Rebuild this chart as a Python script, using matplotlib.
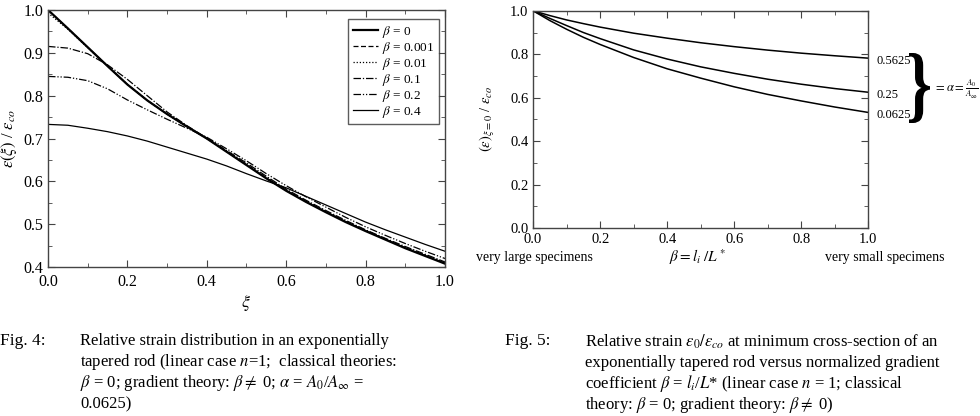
import matplotlib
matplotlib.use("Agg")
import matplotlib.pyplot as plt
from matplotlib.ticker import MultipleLocator
from matplotlib.textpath import TextPath
from matplotlib.patches import PathPatch
from matplotlib.font_manager import FontProperties
from matplotlib.transforms import Affine2D
import numpy as np

plt.rcParams['font.family'] = ['Liberation Serif', 'DejaVu Serif']
plt.rcParams['mathtext.fontset'] = 'stix'

# Fig. 4 - strain distribution along xi (alpha = 0.0625)
xi = [0.0, 0.05, 0.1, 0.15, 0.2, 0.25, 0.3, 0.35, 0.4, 0.45, 0.5,
      0.55, 0.6, 0.65, 0.7, 0.75, 0.8, 0.85, 0.9, 0.95, 1.0]
eps_b0 = [1.0, 0.957, 0.913, 0.869, 0.826, 0.789, 0.757, 0.728, 0.700, 0.669, 0.638,
          0.607, 0.578, 0.552, 0.528, 0.505, 0.484, 0.464, 0.444, 0.426, 0.408]
eps_b0001 = [1.0, 0.957, 0.913, 0.869, 0.826, 0.789, 0.757, 0.728, 0.700, 0.670, 0.639,
             0.608, 0.579, 0.553, 0.529, 0.506, 0.485, 0.465, 0.445, 0.427, 0.409]
eps_b001 = [0.993, 0.955, 0.912, 0.869, 0.826, 0.789, 0.757, 0.728, 0.700, 0.670, 0.640,
            0.609, 0.580, 0.554, 0.530, 0.507, 0.486, 0.466, 0.446, 0.428, 0.410]
eps_b01 = [0.915, 0.911, 0.898, 0.872, 0.838, 0.800, 0.762, 0.730, 0.701, 0.672, 0.643,
           0.612, 0.582, 0.556, 0.532, 0.509, 0.487, 0.467, 0.448, 0.430, 0.412]
eps_b02 = [0.845, 0.843, 0.835, 0.816, 0.790, 0.767, 0.745, 0.724, 0.703, 0.676, 0.648,
           0.618, 0.590, 0.564, 0.540, 0.516, 0.494, 0.474, 0.455, 0.437, 0.420]
eps_b04 = [0.733, 0.731, 0.724, 0.716, 0.706, 0.694, 0.680, 0.666, 0.652, 0.636, 0.618,
           0.601, 0.585, 0.565, 0.545, 0.525, 0.505, 0.487, 0.470, 0.453, 0.437]
beta_labels = [r'$\beta$ = 0', r'$\beta$ = 0.001', r'$\beta$ = 0.01',
               r'$\beta$ = 0.1', r'$\beta$ = 0.2', r'$\beta$ = 0.4']

# Fig. 5 - strain at xi=0 versus beta for three alpha
beta = [0.0, 0.05, 0.1, 0.15, 0.2, 0.3, 0.4, 0.5, 0.6, 0.7, 0.8, 0.9, 1.0]
eps0_a05625 = [1.0, 0.978, 0.958, 0.941, 0.925, 0.897, 0.874, 0.853, 0.835, 0.819, 0.805, 0.793, 0.782]
eps0_a025 = [1.0, 0.965, 0.932, 0.900, 0.872, 0.820, 0.778, 0.742, 0.712, 0.685, 0.662, 0.642, 0.625]
eps0_a00625 = [1.0, 0.955, 0.915, 0.878, 0.845, 0.785, 0.733, 0.690, 0.650, 0.615, 0.585, 0.557, 0.532]
alpha_labels = ['0.5625', '0.25', '0.0625']

W, H = 980, 416
fig = plt.figure(figsize=(9.8, 4.16), dpi=100)

def px(x, y):
    return x / W, 1 - y / H

def style_axes(ax, size):
    for s in ax.spines.values():
        s.set_color('#444444')
        s.set_linewidth(1.0)
    ax.tick_params(which='both', direction='in', top=True, right=True,
                   colors='#444444', labelcolor='black', labelsize=size)
    ax.tick_params(which='major', length=5)
    ax.tick_params(which='minor', length=3)

# ---- left plot
ax1 = fig.add_axes([0.049, 0.358, 0.405, 0.618])
series = [eps_b0, eps_b0001, eps_b001, eps_b01, eps_b02, eps_b04]
styles = [dict(ls='-', lw=1.6),
          dict(ls=(0, (4, 2)), lw=0.9),
          dict(ls=(0, (1, 1.5)), lw=0.9),
          dict(ls=(0, (6, 1.5, 1, 1.5)), lw=0.9),
          dict(ls=(0, (6, 1.5, 1, 1.5, 1, 1.5)), lw=0.9),
          dict(ls='-', lw=0.9)]
for ys, st, lab in zip(series, styles, beta_labels):
    ax1.plot(xi, ys, color='black', label=lab, **st)
ax1.set_xlim(0, 1)
ax1.set_ylim(0.4, 1.0)
ax1.xaxis.set_major_locator(MultipleLocator(0.2))
ax1.xaxis.set_minor_locator(MultipleLocator(0.1))
ax1.yaxis.set_major_locator(MultipleLocator(0.1))
ax1.yaxis.set_minor_locator(MultipleLocator(0.05))
style_axes(ax1, 11.5)
ax1.tick_params(axis='x', pad=5)
ax1.set_xlabel(r'$\xi$', fontsize=13, labelpad=2)
ax1.set_ylabel(r'$\varepsilon(\xi)$ / $\varepsilon_{co}$', fontsize=12, labelpad=3)
leg = ax1.legend(loc='upper right', bbox_to_anchor=(0.985, 0.965), fontsize=9.5,
                 frameon=True, fancybox=False, edgecolor='#333333',
                 handlelength=1.9, handletextpad=0.3, labelspacing=0.0,
                 borderpad=0.35, borderaxespad=0)
leg.get_frame().set_linewidth(1.0)

# ---- right plot
ax2 = fig.add_axes([0.544, 0.452, 0.342, 0.522])
for ys in [eps0_a05625, eps0_a025, eps0_a00625]:
    ax2.plot(beta, ys, color='black', lw=1.1)
ax2.set_xlim(0, 1)
ax2.set_ylim(0, 1)
ax2.xaxis.set_major_locator(MultipleLocator(0.2))
ax2.xaxis.set_minor_locator(MultipleLocator(0.1))
ax2.yaxis.set_major_locator(MultipleLocator(0.2))
ax2.yaxis.set_minor_locator(MultipleLocator(0.1))
style_axes(ax2, 10.5)
ax2.set_ylabel(r'$(\varepsilon)_{\xi=0}$ / $\varepsilon_{co}$', fontsize=10.5, labelpad=9)
fig.text(*px(698, 257), r'$\beta = l_i\ /L^*$', fontsize=11, ha='center', va='center')
fig.text(*px(534, 257), 'very large specimens', fontsize=10, ha='center', va='center')
fig.text(*px(885, 257), 'very small specimens', fontsize=10, ha='center', va='center')
for ys, lab in zip([eps0_a05625, eps0_a025, eps0_a00625], alpha_labels):
    ax2.annotate(lab, xy=(1.0, ys[-1]), xytext=(6, -2), textcoords='offset points',
                 fontsize=9, va='center', ha='left', annotation_clip=False)

# brace grouping the three alpha labels, squeezed into its box
brace = TextPath((0, 0), '}', size=1, prop=FontProperties(family='Liberation Serif', weight='bold'))
bb = brace.get_extents()
bx0, by0, bw, bh = 909, 53, 21, 70
tr = (Affine2D().translate(-bb.x0, -bb.y0)
      .scale((bw / W) / bb.width, (bh / H) / bb.height)
      .translate(bx0 / W, 1 - (by0 + bh) / H) + fig.transFigure)
fig.add_artist(PathPatch(brace, transform=tr, facecolor='black', edgecolor='none'))
fig.text(*px(956, 89), r'$= \alpha = \frac{A_0}{A_\infty}$', fontsize=9, ha='center', va='center')

# ---- captions
cap_y = [341, 362, 383, 404]
left_lines = ['Relative strain distribution in an exponentially',
              r'tapered rod (linear case $n$=1;  classical theories:',
              r'$\beta$ = 0; gradient theory: $\beta \neq$ 0; $\alpha$ = $A_0$/$A_\infty$ =',
              '0.0625)']
right_lines = [r'Relative strain $\varepsilon_0/\varepsilon_{co}$ at minimum cross-section of an',
               'exponentially tapered rod versus normalized gradient',
               r'coefficient $\beta$ = $l_i$/$L$* (linear case $n$ = 1; classical',
               r'theory: $\beta$ = 0; gradient theory: $\beta \neq$ 0)']
fig.text(*px(0, cap_y[0]), 'Fig. 4:', fontsize=12.5, va='center', ha='left')
fig.text(*px(505, cap_y[0]), 'Fig. 5:', fontsize=12.5, va='center', ha='left')
for yy, l1, l2 in zip(cap_y, left_lines, right_lines):
    fig.text(*px(80, yy), l1, fontsize=12, va='center', ha='left')
    fig.text(*px(585, yy + 1), l2, fontsize=12, va='center', ha='left')

fig.savefig('out.png', dpi=100)
